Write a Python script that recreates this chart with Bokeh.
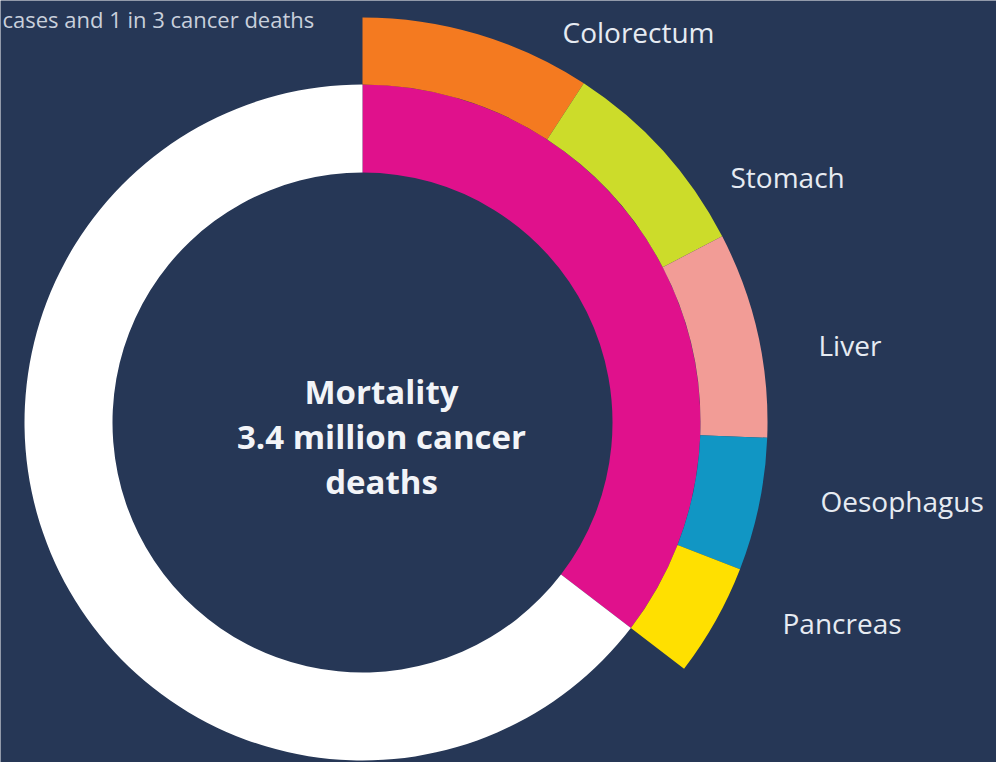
import numpy as np
from bokeh.plotting import figure
from bokeh.models import Range1d, ColumnDataSource
from bokeh.core.properties import value
from bokeh.embed import file_html
from bokeh.resources import INLINE

# Share of global cancer deaths (%)
sites = ["Colorectum", "Stomach", "Liver", "Oesophagus", "Pancreas"]
shares = [9.2, 8.2, 8.2, 5.3, 4.5]
site_colors = ["#F47A20", "#CCDC2A", "#F29C96", "#1196C4", "#FFE000"]
digestive_color = "#E0118C"
other_color = "#FFFFFF"
center_lines = ["Mortality", "3.4 million cancer", "deaths"]
top_note = "cases and 1 in 3 cancer deaths"

BG = "#263756"
W, H = 996, 762
cx, cy = 362, H - 422
r_in, r_mid, r_out = 250, 338, 405

p = figure(width=W, height=H, output_backend="svg", toolbar_location=None,
           x_range=Range1d(0, W), y_range=Range1d(0, H), min_border=0)
p.axis.visible = False
p.grid.visible = False
p.outline_line_color = None
p.background_fill_color = BG
p.border_fill_color = BG

# angles: start at 12 o'clock, go clockwise
vals = np.array(shares, dtype=float)
deg = vals / 100.0 * 2 * np.pi
ends = np.pi / 2 - np.cumsum(deg)
starts = ends + deg
total = deg.sum()

# inner ring: digestive vs other
inner = ColumnDataSource(dict(
    start=[np.pi / 2 - total, np.pi / 2],
    end=[np.pi / 2, np.pi / 2 - total + 2 * np.pi],
    color=[digestive_color, other_color]))
p.annular_wedge(x=cx, y=cy, inner_radius=r_in, outer_radius=r_mid,
                start_angle="start", end_angle="end", color="color",
                line_color=None, source=inner)

outer = ColumnDataSource(dict(start=ends, end=starts, color=site_colors, name=sites))
p.annular_wedge(x=cx, y=cy, inner_radius=r_mid, outer_radius=r_out,
                start_angle="start", end_angle="end", color="color",
                line_color=None, source=outer)

# site labels
lab_x = [562, 730, 818, 820, 782]
lab_y = [H - 31, H - 176, H - 344, H - 500, H - 622]
p.text(x=lab_x, y=lab_y, text=sites, text_color="#E6EBF2",
       text_font=value("Open Sans"), text_font_size="28px",
       text_baseline="alphabetic", text_align="left")

# centre text
p.text(x=[381] * 3, y=[H - 391, H - 436, H - 481], text=center_lines,
       text_color="#F2F4F8", text_font=value("Open Sans"),
       text_font_size="33px", text_font_style="bold",
       text_baseline="alphabetic", text_align="center")

# heading fragment at top
p.text(x=[2], y=[H - 18], text=[top_note], text_color="#C9D0DC",
       text_font=value("Open Sans"), text_font_size="22px",
       text_baseline="alphabetic", text_align="left")

open("out.html", "w").write(file_html(p, INLINE))
